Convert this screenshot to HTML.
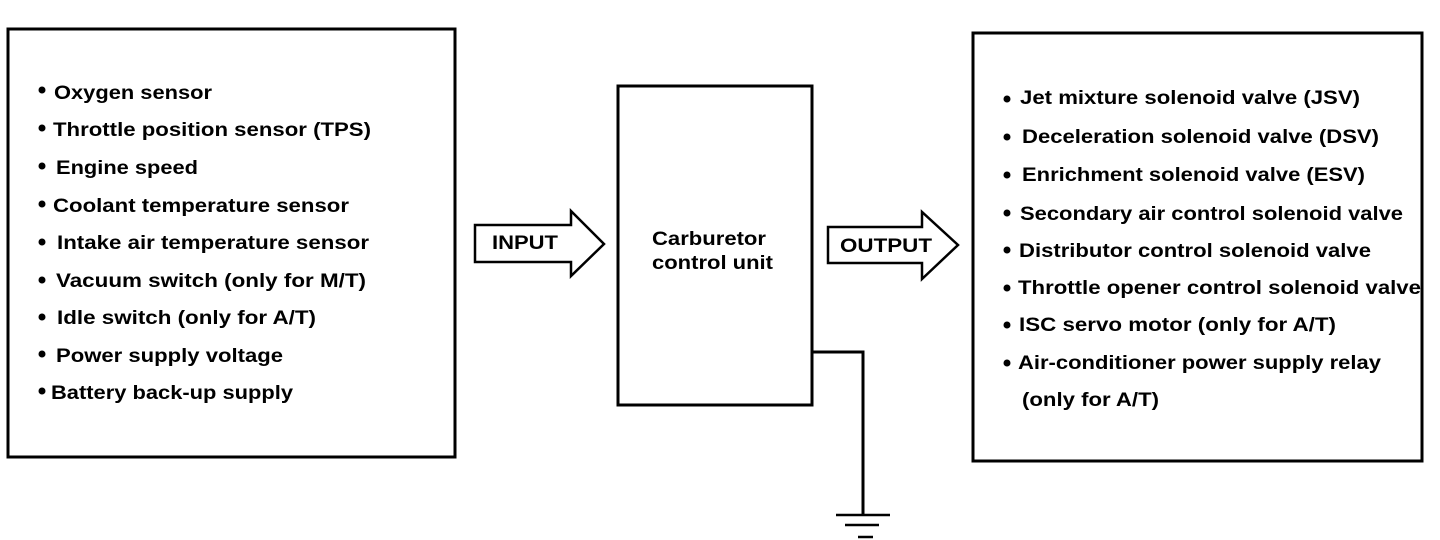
<!DOCTYPE html>
<html><head><meta charset="utf-8"><style>
html,body{margin:0;padding:0;background:#fff;}
svg{display:block;}
text{font-family:"Liberation Sans",Arial,sans-serif;font-weight:bold;font-size:19px;fill:#000;}
</style></head><body>
<svg width="1440" height="540" viewBox="0 0 1440 540" xmlns="http://www.w3.org/2000/svg">
<g fill="none" stroke="#000" stroke-width="3">
<rect x="8" y="29" width="447" height="428"/>
<rect x="973" y="33" width="449" height="428"/>
<rect x="618" y="86" width="194" height="319"/>
<polyline points="812,352 863,352 863,515" stroke-width="3"/>
<line x1="836" y1="515" x2="890" y2="515" stroke-width="2.5"/>
<line x1="845" y1="525" x2="879" y2="525" stroke-width="2.5"/>
<line x1="858" y1="537" x2="873" y2="537" stroke-width="2.5"/>
<polygon points="475,225 571,225 571,211 604,244 571,276 571,262 475,262" stroke-width="2.5"/>
<polygon points="828,227 922,227 922,212 958,245 922,279 922,263 828,263" stroke-width="2.5"/>
</g>
<text x="492" y="249" textLength="66" lengthAdjust="spacingAndGlyphs">INPUT</text>
<text x="840" y="252" textLength="92" lengthAdjust="spacingAndGlyphs">OUTPUT</text>
<text x="652" y="245" textLength="114" lengthAdjust="spacingAndGlyphs">Carburetor</text>
<text x="652" y="269" textLength="121" lengthAdjust="spacingAndGlyphs">control unit</text>
<g fill="#000">
<circle cx="42" cy="90" r="3.5"/><circle cx="42" cy="128" r="3.5"/><circle cx="42" cy="166" r="3.5"/>
<circle cx="42" cy="204" r="3.5"/><circle cx="42" cy="242" r="3.5"/><circle cx="42" cy="280" r="3.5"/>
<circle cx="42" cy="317" r="3.5"/><circle cx="42" cy="354" r="3.5"/><circle cx="42" cy="391" r="3.5"/>
<circle cx="1007" cy="99" r="3.5"/><circle cx="1007" cy="137" r="3.5"/><circle cx="1007" cy="175" r="3.5"/>
<circle cx="1007" cy="213" r="3.5"/><circle cx="1007" cy="250" r="3.5"/><circle cx="1007" cy="288" r="3.5"/>
<circle cx="1007" cy="325" r="3.5"/><circle cx="1007" cy="363" r="3.5"/>
</g>
<text x="54" y="99" textLength="158" lengthAdjust="spacingAndGlyphs">Oxygen sensor</text>
<text x="53" y="136" textLength="318" lengthAdjust="spacingAndGlyphs">Throttle position sensor (TPS)</text>
<text x="56" y="174" textLength="142" lengthAdjust="spacingAndGlyphs">Engine speed</text>
<text x="53" y="212" textLength="296" lengthAdjust="spacingAndGlyphs">Coolant temperature sensor</text>
<text x="57" y="249" textLength="312" lengthAdjust="spacingAndGlyphs">Intake air temperature sensor</text>
<text x="56" y="287" textLength="310" lengthAdjust="spacingAndGlyphs">Vacuum switch (only for M/T)</text>
<text x="57" y="324" textLength="259" lengthAdjust="spacingAndGlyphs">Idle switch (only for A/T)</text>
<text x="56" y="362" textLength="227" lengthAdjust="spacingAndGlyphs">Power supply voltage</text>
<text x="51" y="399" textLength="242" lengthAdjust="spacingAndGlyphs">Battery back-up supply</text>
<text x="1020" y="104" textLength="340" lengthAdjust="spacingAndGlyphs">Jet mixture solenoid valve (JSV)</text>
<text x="1022" y="143" textLength="357" lengthAdjust="spacingAndGlyphs">Deceleration solenoid valve (DSV)</text>
<text x="1022" y="181" textLength="343" lengthAdjust="spacingAndGlyphs">Enrichment solenoid valve (ESV)</text>
<text x="1020" y="220" textLength="383" lengthAdjust="spacingAndGlyphs">Secondary air control solenoid valve</text>
<text x="1019" y="257" textLength="352" lengthAdjust="spacingAndGlyphs">Distributor control solenoid valve</text>
<text x="1018" y="294" textLength="403" lengthAdjust="spacingAndGlyphs">Throttle opener control solenoid valve</text>
<text x="1019" y="331" textLength="317" lengthAdjust="spacingAndGlyphs">ISC servo motor (only for A/T)</text>
<text x="1018" y="369" textLength="363" lengthAdjust="spacingAndGlyphs">Air-conditioner power supply relay</text>
<text x="1022" y="406" textLength="137" lengthAdjust="spacingAndGlyphs">(only for A/T)</text>
</svg>
</body></html>
